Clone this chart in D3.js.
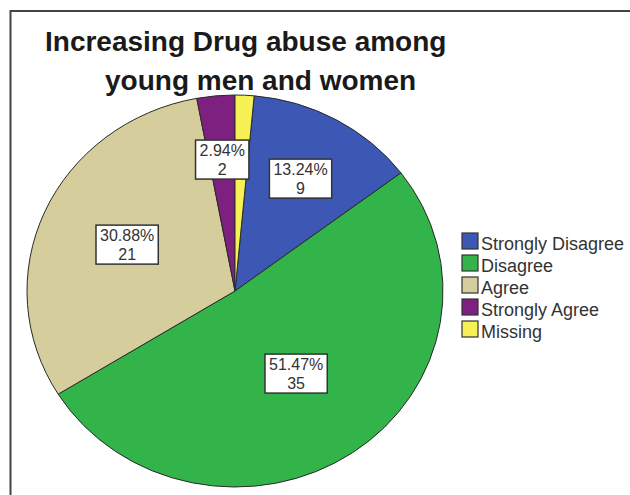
<!DOCTYPE html>
<html><head><meta charset="utf-8">
<script src="https://cdn.jsdelivr.net/npm/d3@7/dist/d3.min.js"></script>
<style>body{margin:0;background:#fff;} svg{display:block;}</style>
</head><body>
<svg id="chart" width="630" height="495"></svg>
<script>
const categories = ["Strongly Disagree", "Disagree", "Agree", "Strongly Agree", "Missing"];
const counts = [9, 35, 21, 2, 1];
const colors = ["#3d58b4", "#33b44a", "#d5cd9b", "#7d2080", "#f6f154"];
const labelled = [true, true, true, true, false];
const titleLines = ["Increasing Drug abuse among", "young men and women"];

const svg = d3.select("#chart");
const total = d3.sum(counts);

// frame
svg.append("rect").attr("x", 10.5).attr("y", 11).attr("width", 660).attr("height", 520)
  .attr("fill", "#fff").attr("stroke", "#444").attr("stroke-width", 2);

// title
const font = "'Liberation Sans', Arial, Helvetica, sans-serif";
const tx = [45, 105], ty = [51, 90];
titleLines.forEach((t, i) => {
  svg.append("text").attr("x", tx[i]).attr("y", ty[i])
    .attr("font-family", font).attr("font-weight", "bold").attr("font-size", 28)
    .attr("fill", "#1a1a1a").text(t);
});

// pie (slightly elliptical)
const cx = 235, cy = 291, rx = 208, ry = 196;
const offset = counts[counts.length - 1] / total * 2 * Math.PI;
const pie = d3.pie().sort(null).startAngle(offset).endAngle(offset + 2 * Math.PI);
const arcs = pie(counts);
const arc = d3.arc().innerRadius(0).outerRadius(ry);
const g = svg.append("g").attr("transform", `translate(${cx},${cy}) scale(${rx / ry},1)`);
g.selectAll("path").data(arcs).enter().append("path")
  .attr("d", arc)
  .attr("fill", (d, i) => colors[i])
  .attr("stroke", "#2a2a2a").attr("stroke-width", 1)
  .attr("vector-effect", "non-scaling-stroke");

// labels at sector area centroid
const lg = svg.append("g");
arcs.forEach((d, i) => {
  if (!labelled[i]) return;
  const theta = d.endAngle - d.startAngle;
  const a = theta / 2;
  let f = 2 * Math.sin(a) / (3 * a);
  f = Math.max(f, 0.52);
  const mid = (d.startAngle + d.endAngle) / 2;
  const x = cx + f * rx * Math.sin(mid);
  const y = cy - f * ry * Math.cos(mid) - 5;
  const pct = (counts[i] / total * 100).toFixed(2) + "%";
  const box = lg.append("rect").attr("fill", "#fff").attr("stroke", "#333").attr("stroke-width", 1.5);
  const t1 = lg.append("text").attr("x", x).attr("y", y).attr("text-anchor", "middle")
    .attr("font-family", font).attr("font-size", 16).attr("fill", "#333").text(pct);
  const t2 = lg.append("text").attr("x", x).attr("y", y + 18.5).attr("text-anchor", "middle")
    .attr("font-family", font).attr("font-size", 16).attr("fill", "#333").text(counts[i]);
  const w = Math.max(t1.node().getComputedTextLength(), t2.node().getComputedTextLength()) + 8;
  box.attr("x", x - w / 2).attr("y", y - 16).attr("width", w).attr("height", 39);
});

// legend
const leg = svg.append("g");
categories.forEach((c, i) => {
  const y0 = 233 + i * 22;
  leg.append("rect").attr("x", 462).attr("y", y0).attr("width", 16).attr("height", 16)
    .attr("fill", colors[i]).attr("stroke", "#333").attr("stroke-width", 1.2);
  leg.append("text").attr("x", 481).attr("y", y0 + 16.5)
    .attr("font-family", font).attr("font-size", 18).attr("fill", "#333").text(c);
});
</script>
</body></html>
